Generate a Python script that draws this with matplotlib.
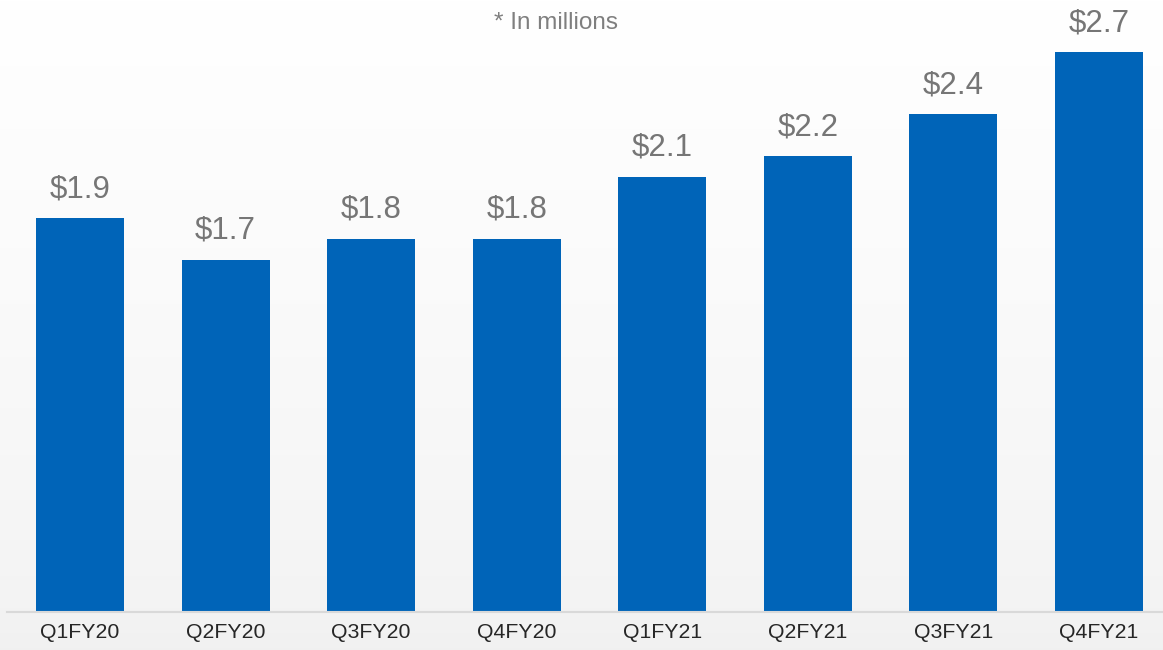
import matplotlib
matplotlib.use("Agg")
import matplotlib.pyplot as plt
import numpy as np

categories = ["Q1FY20", "Q2FY20", "Q3FY20", "Q4FY20", "Q1FY21", "Q2FY21", "Q3FY21", "Q4FY21"]
values = [1.9, 1.7, 1.8, 1.8, 2.1, 2.2, 2.4, 2.7]
value_labels = ["$1.9", "$1.7", "$1.8", "$1.8", "$2.1", "$2.2", "$2.4", "$2.7"]
note = "* In millions"

plt.rcParams['font.family'] = ['Liberation Sans', 'DejaVu Sans']

W, H = 1163, 650
fig = plt.figure(figsize=(W / 100, H / 100), dpi=100)

# background gradient
bg = fig.add_axes([0, 0, 1, 1], zorder=0)
grad = np.linspace(1.0, 0.0, 256).reshape(-1, 1) ** 0.7
top = np.array([1.0, 1.0, 1.0])
bot = np.array([0.945, 0.945, 0.945])
img = top * grad[..., None] + bot * (1 - grad[..., None])
img = np.repeat(img, 2, axis=1)
bg.imshow(img, aspect='auto', extent=[0, 1, 0, 1], origin='upper')
bg.axis('off')

ax = fig.add_axes([7 / W, (H - 612) / H, 1 - 7 / W, 612 / H], zorder=1)
ax.patch.set_alpha(0)
x = np.arange(len(categories))
ax.bar(x, values, width=0.605, color="#0064B8", zorder=2)
ax.set_xlim(-0.5015, 7.44)
ax.set_ylim(0, 2.952)

for xi, v, lab in zip(x, values, value_labels):
    ax.annotate(lab, (xi, v), xytext=(0, 10), textcoords='offset points',
                ha='center', va='bottom', fontsize=22.5, color="#767676")

for s in ['top', 'right', 'left']:
    ax.spines[s].set_visible(False)
ax.spines['bottom'].set_color("#D9D9D9")
ax.spines['bottom'].set_linewidth(1.5)
ax.set_yticks([])
ax.set_xticks(x)
ax.set_xticklabels(categories, fontsize=15.3, color="#262626")
ax.tick_params(axis='x', length=0, pad=8)

fig.text(556 / W, 1 - 23 / H, note, ha='center', va='center', fontsize=17.5, color="#7F7F7F")

fig.savefig("out.png", dpi=100)
